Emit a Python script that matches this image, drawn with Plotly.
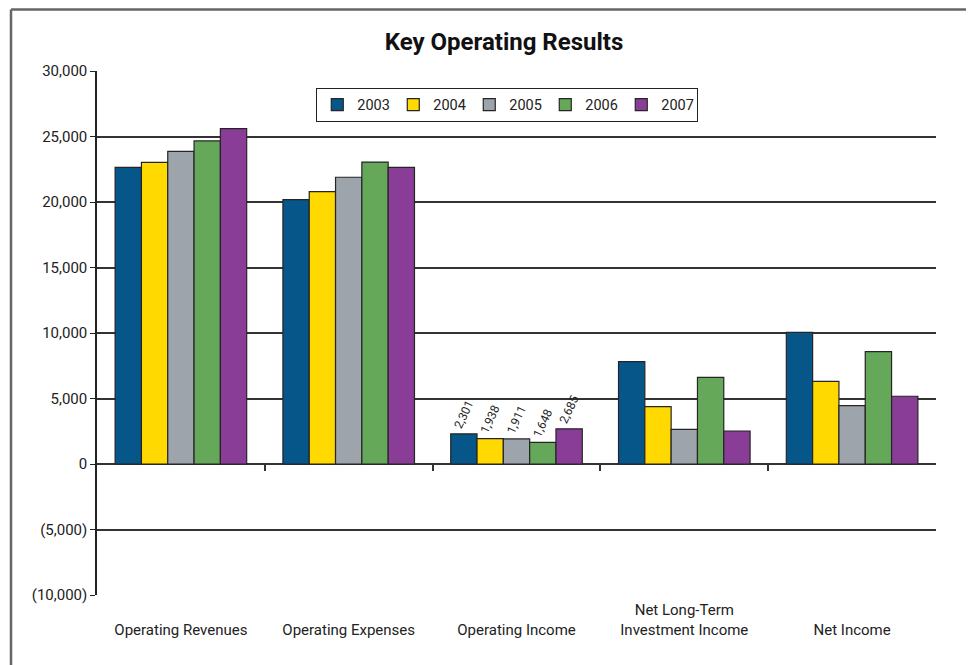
import plotly.graph_objects as go

categories = ["Operating Revenues", "Operating Expenses", "Operating Income",
              "Net Long-Term Investment Income", "Net Income"]
tick_labels = [" <br>Operating Revenues", " <br>Operating Expenses", " <br>Operating Income",
               "Net Long-Term<br>Investment Income", " <br>Net Income"]
years = ["2003", "2004", "2005", "2006", "2007"]

v2003 = [22650, 20180, 2301, 7810, 10050]
v2004 = [23030, 20790, 1938, 4380, 6310]
v2005 = [23870, 21890, 1911, 2650, 4450]
v2006 = [24660, 23050, 1648, 6620, 8580]
v2007 = [25600, 22650, 2685, 2520, 5170]
series = [v2003, v2004, v2005, v2006, v2007]

labelled_category = "Operating Income"

y_tickvals = [-10000, -5000, 0, 5000, 10000, 15000, 20000, 25000, 30000]
y_ticktext = ["(10,000)", "(5,000)", "0", "5,000", "10,000", "15,000", "20,000", "25,000", "30,000"]

colors = ["#07568a", "#ffd900", "#9da4ab", "#65a85a", "#8a3d96"]

FONT = "Roboto, sans-serif"

fig = go.Figure()
for yr, vals, col in zip(years, series, colors):
    texts = [f"{v:,.0f}" if c == labelled_category else "" for c, v in zip(categories, vals)]
    fig.add_trace(go.Bar(
        name=yr, x=categories, y=vals,
        marker=dict(color=col, line=dict(color="#252525", width=1.2)),
        text=texts, textposition="outside", textangle=-65,
        textfont=dict(size=12, color="#222", family=FONT),
        constraintext="none", cliponaxis=False,
    ))

# empty trace to host the boundary tick axis at the zero line
fig.add_trace(go.Scatter(x=[], y=[], xaxis="x2", yaxis="y", showlegend=False, hoverinfo="skip"))

# the page body adds an 8px offset; margins compensate so the plot lands at 97..936 x 71..595
fig.update_layout(
    width=974, height=665,
    margin=dict(l=89, r=46, t=63, b=78),
    paper_bgcolor="white", plot_bgcolor="white",
    font=dict(family=FONT, size=15, color="#222"),
    title=dict(text="<b>Key Operating Results</b>", x=496/974, xanchor="center",
               y=1-34/665, yanchor="middle", yref="container",
               font=dict(family=FONT, size=24, color="#111")),
    barmode="group", bargap=0.216, bargroupgap=0,
    showlegend=True,
    legend=dict(orientation="h", x=0.489, xanchor="center", y=0.968, yanchor="top",
                bordercolor="#222", borderwidth=1, bgcolor="white",
                font=dict(family=FONT, size=14.5, color="#222"),
                itemwidth=30, entrywidth=31, entrywidthmode="pixels", traceorder="normal"),
    xaxis=dict(tickmode="array", tickvals=categories, ticktext=tick_labels,
               showgrid=False, zeroline=False, showline=False, ticks="",
               ticklabelstandoff=4,
               tickfont=dict(family=FONT, size=15, color="#222")),
    xaxis2=dict(overlaying="x", anchor="free", position=0.25, range=[-0.5, 4.5],
                tickmode="array", tickvals=[0.5, 1.5, 2.5, 3.5], showticklabels=False,
                ticks="outside", ticklen=6, tickwidth=1.5, tickcolor="#333",
                showgrid=False, zeroline=False, showline=False),
    yaxis=dict(range=[-10000, 30000], tickmode="array", tickvals=y_tickvals, ticktext=y_ticktext,
               showgrid=True, gridcolor="#333", gridwidth=1.5,
               zeroline=True, zerolinecolor="#333", zerolinewidth=1.5,
               showline=True, linecolor="#222", linewidth=1.5,
               ticks="outside", ticklen=5, tickcolor="#222", tickwidth=1.2,
               tickfont=dict(family=FONT, size=15, color="#222")),
)

# outer frame (left and top edges)
fig.add_shape(type="line", xref="paper", yref="paper",
              x0=(11-97)/839, x1=(982-97)/839, y0=(595-9.5)/524, y1=(595-9.5)/524,
              line=dict(color="#666", width=2.5))
fig.add_shape(type="line", xref="paper", yref="paper",
              x0=(11-97)/839, x1=(11-97)/839, y0=(595-9.5)/524, y1=(595-680)/524,
              line=dict(color="#666", width=2.5))

fig.write_html("out.html")
